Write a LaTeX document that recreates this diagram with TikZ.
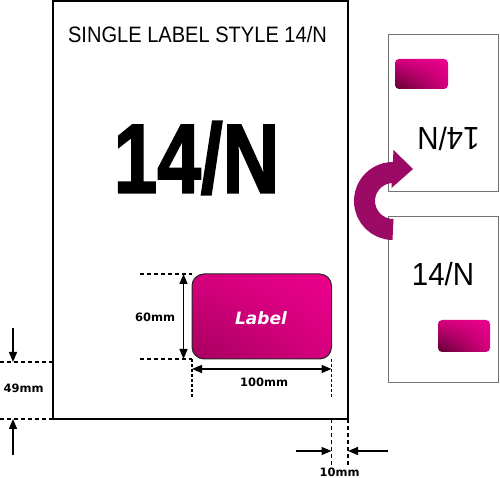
\documentclass[tikz,border=0pt]{standalone}
\usepackage{fontspec}
\setmainfont{Liberation Sans}
\newfontfamily\dimfont{DejaVu Sans}
\newfontfamily\heavysans[FakeBold=2.2]{Liberation Sans Bold}
\usetikzlibrary{arrows.meta,shadings}

\definecolor{labelbright}{RGB}{236,0,140}
\definecolor{labelmid}{RGB}{214,0,126}
\definecolor{labeldark}{RGB}{165,0,94}
\definecolor{labeldeep}{RGB}{95,0,50}
\definecolor{flipmag}{RGB}{155,10,100}

\tikzset{
  sheet/.style={draw=black, line width=1.5pt, fill=white},
  minisheet/.style={draw=gray!90!black, line width=1pt, fill=white},
  dimarrow/.style={line width=1.3pt, -{Triangle[length=10pt,width=8pt]}},
  dimboth/.style={line width=1.3pt, {Triangle[length=10pt,width=8pt]}-{Triangle[length=10pt,width=8pt]}},
  guide/.style={line width=1.2pt, dash pattern=on 4pt off 3pt},
  dimtext/.style={font=\dimfont\bfseries\fontsize{11.5}{11.5}\selectfont},
  bigshade/.style={upper right=labelbright, upper left=labelmid, lower right=labelmid, lower left=labeldark},
  smallshade/.style={upper right=labelbright, upper left=labelmid, lower right=labelmid, lower left=labeldeep},
}

\begin{document}
\begin{tikzpicture}[x=1pt,y=1pt]
  \useasboundingbox (0,0) rectangle (500,478);

  % main sheet
  \draw[sheet] (53,477) rectangle (348,59);
  \node[font=\fontsize{22.3}{22.3}\selectfont, xscale=0.9] (title) at (197.5,443) {SINGLE LABEL STYLE 14/N};
  \node[font=\heavysans\fontsize{98}{98}\selectfont, xscale=0.8] (bigcode) at (196.5,320) {14/N};

  % the label
  \coordinate (lblTL) at (192,204);
  \coordinate (lblBL) at (192,119);
  \coordinate (lblBR) at (331.5,119);
  \coordinate (lblTR) at (331.5,204);
  \shadedraw[bigshade, draw=black!85, line width=1pt, rounded corners=12pt] (lblTL) rectangle (lblBR);
  \node[text=white, font=\dimfont\bfseries\itshape\fontsize{17}{17}\selectfont] (labeltext) at (261,160) {Label};

  % 60mm
  \coordinate (g60top) at (140,204);
  \coordinate (g60bot) at (140,119);
  \coordinate (a60top) at (183.5,204);
  \coordinate (a60bot) at (183.5,119);
  \draw[guide] (g60top) -- (lblTL);
  \draw[guide] (g60bot) -- (lblBL);
  \draw[dimboth] (a60top) -- (a60bot);
  \node[dimtext] (dim60) at (155,161) {60mm};

  % 100mm
  \coordinate (g100l) at (192,81);
  \coordinate (g100r) at (331.5,81);
  \coordinate (a100l) at (192,109);
  \coordinate (a100r) at (331.5,109);
  \draw[guide, dash pattern=on 3pt off 2pt] (lblBL) -- (g100l);
  \draw[guide, dash pattern=on 3pt off 2pt] (lblBR) -- (g100r);
  \draw[dimboth] (a100l) -- (a100r);
  \node[dimtext] (dim100) at (264,96) {100mm};

  % 49mm
  \coordinate (g49a) at (0,116);
  \coordinate (g49b) at (53,116);
  \coordinate (g49c) at (0,59);
  \coordinate (g49d) at (53,59);
  \draw[guide] (g49a) -- (g49b);
  \draw[guide] (g49c) -- (g49d);
  \coordinate (t49top) at (13,150);
  \coordinate (h49top) at (13,116);
  \coordinate (t49bot) at (13,23);
  \coordinate (h49bot) at (13,59);
  \draw[dimarrow] (t49top) -- (h49top);
  \draw[dimarrow] (t49bot) -- (h49bot);
  \node[dimtext] (dim49) at (23.5,89.5) {49mm};

  % 10mm
  \coordinate (g10a) at (331.5,59);
  \coordinate (g10b) at (331.5,13);
  \coordinate (g10c) at (348,59);
  \coordinate (g10d) at (348,13);
  \draw[guide] (g10a) -- (g10b);
  \draw[guide] (g10c) -- (g10d);
  \coordinate (t10l) at (296,27);
  \coordinate (h10l) at (331.5,27);
  \coordinate (t10r) at (388,27);
  \coordinate (h10r) at (348,27);
  \draw[dimarrow] (t10l) -- (h10l);
  \draw[dimarrow] (t10r) -- (h10r);
  \node[dimtext] (dim10) at (339.5,6) {10mm};

  % upside-down sheet
  \draw[minisheet] (388,443) rectangle (498,286);
  \shade[smallshade, rounded corners=4pt] (395,419) rectangle (448,389);
  \node[font=\fontsize{32}{32}\selectfont, xscale=0.92, rotate=180] (backcode) at (448.5,339) {14/N};

  % upright sheet
  \draw[minisheet] (388,261) rectangle (498,95);
  \shade[smallshade, rounded corners=4pt] (438,158) rectangle (490,126);
  \node[font=\fontsize{32}{32}\selectfont, xscale=0.92] (frontcode) at (443,203.5) {14/N};

  % turn-over arrow
  \draw[flipmag, line width=21pt] (393,248.5) arc[start angle=-90, end angle=-272, radius=28.5];
  \fill[flipmag] (391.5,290) -- (393.5,328) -- (413,309) -- cycle;
\end{tikzpicture}
\end{document}
